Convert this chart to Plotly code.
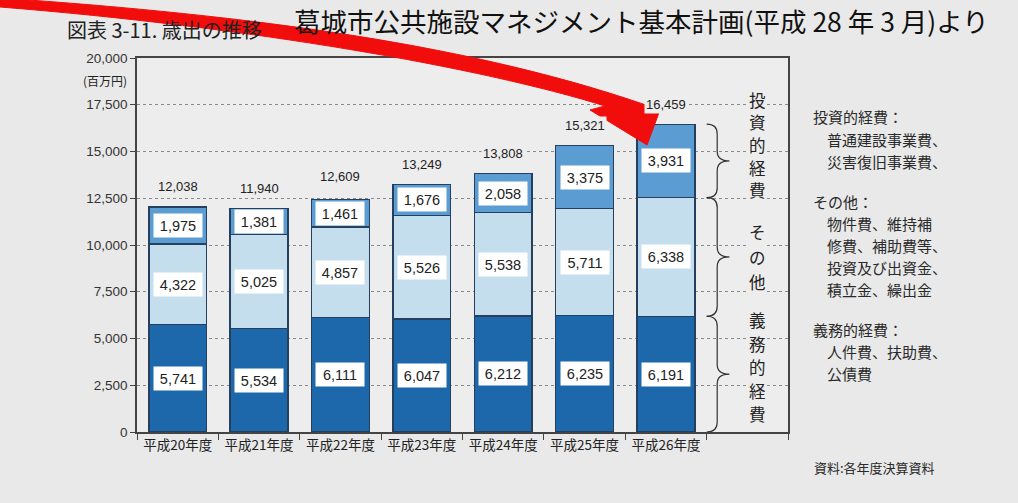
import plotly.graph_objects as go

W, H = 1018, 503
categories = ["平成20年度", "平成21年度", "平成22年度", "平成23年度", "平成24年度", "平成25年度", "平成26年度"]
gimu = [5741, 5534, 6111, 6047, 6212, 6235, 6191]      # 義務的経費
sonota = [4322, 5025, 4857, 5526, 5538, 5711, 6338]    # その他
toshi = [1975, 1381, 1461, 1676, 2058, 3375, 3931]     # 投資的経費
totals = [12038, 11940, 12609, 13249, 13808, 15321, 16459]
y_ticks = [0, 2500, 5000, 7500, 10000, 12500, 15000, 17500, 20000]

BG = "#e9e9e9"
PLOT_BG = "#ededed"
C_DARK = "#1d68aa"
C_LIGHT = "#c4deed"
C_MID = "#5b9dd3"
EDGE = "#24405e"
NUMFONT = "Liberation Sans, Noto Sans CJK JP"
JPFONT = "Noto Sans CJK JP"

def px(x, y):
    return x / W, 1 - y / H

xs = list(range(len(categories)))
fig = go.Figure()
for vals, col, name in [(gimu, C_DARK, "義務的経費"), (sonota, C_LIGHT, "その他"), (toshi, C_MID, "投資的経費")]:
    fig.add_trace(go.Bar(x=xs, y=vals, name=name, marker=dict(color=col, line=dict(color=EDGE, width=1.4)),
                         width=0.71, hoverinfo="skip"))

ann = []
# segment value labels in white boxes
for i in xs:
    base = 0
    for vals in (gimu, sonota, toshi):
        v = vals[i]
        ann.append(dict(x=i, y=base + v / 2, xref="x", yref="y", text=f"{v:,}", showarrow=False,
                        xanchor="center", yanchor="middle",
                        bgcolor="white", width=46, height=21, font=dict(size=14.5, color="#222", family=NUMFONT)))
        base += v
    ann.append(dict(x=i, y=totals[i], xref="x", yref="y", yshift=20, text=f"{totals[i]:,}", showarrow=False,
                    xanchor="center", yanchor="middle",
                    bgcolor=PLOT_BG, font=dict(size=13, color="#222", family=NUMFONT)))

def paper_text(t, x0, y0, size, xanchor="left", color="#2a2a2a", bg=None, family=JPFONT, pad=1):
    x, y = px(x0, y0)
    d = dict(x=x, y=y, xref="paper", yref="paper", text=t, showarrow=False, xanchor=xanchor, yanchor="middle",
             font=dict(size=size, color=color, family=family), borderpad=pad)
    if bg:
        d["bgcolor"] = bg
    return d

# vertical labels, one character each
vertical = [("投資的経費", 100, 22.5), ("その他", 232, 25), ("義務的経費", 320, 23.5)]
for txt, y_start, step in vertical:
    for k, ch in enumerate(txt):
        ann.append(paper_text(ch, 757, y_start + k * step, 16.5, xanchor="center", color="#222",
                              bg=PLOT_BG, pad=0))

# right notes
notes = [("投資的経費：", 812, 117), ("普通建設事業費、", 826, 139), ("災害復旧事業費、", 826, 161),
         ("その他：", 812, 201), ("物件費、維持補", 826, 223), ("修費、補助費等、", 826, 245),
         ("投資及び出資金、", 826, 267), ("積立金、繰出金", 826, 289),
         ("義務的経費：", 812, 329), ("人件費、扶助費、", 826, 351), ("公債費", 826, 373)]
for t, x0, y0 in notes:
    ann.append(paper_text(t, x0, y0, 15, pad=0))
ann.append(paper_text("資料:各年度決算資料", 812, 467, 13))
ann.append(paper_text("図表 3-11. 歳出の推移", 65, 30, 20, color="#222"))
ann.append(paper_text("葛城市公共施設マネジメント基本計画(平成 28 年 3 月)より", 292, 21, 26.5, color="#111"))
ann.append(paper_text("(百万円)", 105, 80, 12, xanchor="center", color="#222"))

shapes = []
# braces for the last bar's segments
last = len(xs) - 1
bounds = [0, gimu[last], gimu[last] + sonota[last], gimu[last] + sonota[last] + toshi[last]]
tip, spine, point = 6.5, 6.63, 6.78
r = 520
for a, b in zip(bounds[:-1], bounds[1:]):
    m = (a + b) / 2
    p = (f"M {tip},{a} Q {spine},{a} {spine},{a + r} L {spine},{m - r} Q {spine},{m} {point},{m} "
         f"Q {spine},{m} {spine},{m + r} L {spine},{b - r} Q {spine},{b} {tip},{b}")
    shapes.append(dict(type="path", path=p, xref="x", yref="y", line=dict(color="#333", width=1.2)))

# red arrow decoration (pixel coords -> paper)
def P(x, y):
    a, b = px(x, y)
    return f"{a:.4f},{b:.4f}"
arrow = (f"M {P(0,-2)} C {P(250,15)} {P(480,45)} {P(660,110)} L {P(647,145)} L {P(590,110)} L {P(605,106)} "
         f"C {P(480,67)} {P(250,27)} {P(0,7)} Z")
shapes.append(dict(type="path", path=arrow, xref="paper", yref="paper", fillcolor="#f20d0d",
                   line=dict(color="#f20d0d", width=1), layer="above"))

fig.update_layout(
    width=W, height=H, margin=dict(l=0, r=0, t=0, b=0), paper_bgcolor=BG, plot_bgcolor=PLOT_BG,
    barmode="stack", showlegend=False, bargap=0.3,
    annotations=ann, shapes=shapes,
    xaxis=dict(domain=[137 / W, 788 / W], range=[-0.5, 7.5], tickvals=xs, ticktext=categories, ticks="",
               showgrid=False, zeroline=False, showline=True, mirror=True, linecolor="#444", linewidth=1.5,
               tickfont=dict(size=13.5, color="#222", family=JPFONT), automargin=False,
               minor=dict(tick0=0.5, dtick=1, ticks="outside", ticklen=6, tickcolor="#444", showgrid=False)),
    yaxis=dict(domain=[1 - 432 / H, 1 - 58 / H], range=[0, 20000], tickvals=y_ticks, tickformat=",",
               ticks="outside", ticklen=5, tickcolor="#444", showgrid=True, gridcolor="#8a8a8a",
               griddash="dot", gridwidth=1, zeroline=False, showline=True, mirror=True, linecolor="#444",
               linewidth=1.5, tickfont=dict(size=13.5, color="#333", family=NUMFONT), automargin=False),
)
fig.write_html("out.html")
